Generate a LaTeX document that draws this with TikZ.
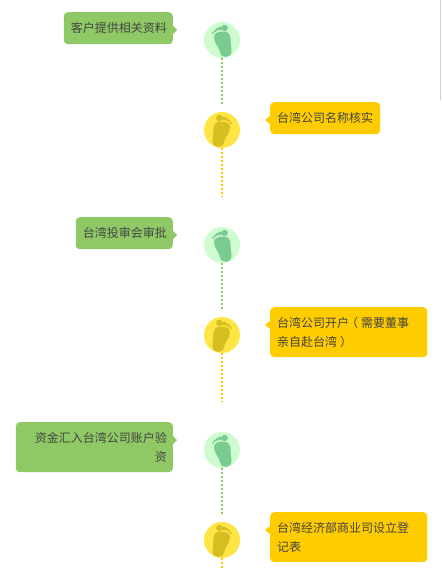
\documentclass[tikz,border=0pt]{standalone}
\usepackage{fontspec}
\setmainfont{Noto Sans CJK SC}
\usetikzlibrary{positioning}
\definecolor{BoxGreen}{RGB}{143,201,101}
\definecolor{BoxYellow}{RGB}{255,204,0}
\definecolor{RingGreen}{RGB}{207,252,207}
\definecolor{RingYellow}{RGB}{255,229,67}
\definecolor{FootGreen}{RGB}{122,203,143}
\definecolor{FootYellow}{RGB}{212,190,34}
\definecolor{TextGrey}{RGB}{68,68,68}
\begin{document}
\begin{tikzpicture}[x=1pt,y=-1pt,
leftbox/.style={rectangle,rounded corners=4pt,fill=BoxGreen,anchor=north east,align=right,inner xsep=6pt,inner ysep=0pt,text width=#1,text=TextGrey,font=\fontsize{12}{19.5}\selectfont},
rightbox/.style={rectangle,rounded corners=4pt,fill=BoxYellow,anchor=north west,align=left,inner xsep=7pt,inner ysep=0pt,text width=#1,text=TextGrey,font=\fontsize{12}{19.5}\selectfont},
greenring/.style={circle,fill=RingGreen,minimum size=36pt,inner sep=0pt},
yellowring/.style={circle,fill=RingYellow,minimum size=36pt,inner sep=0pt},
greenline/.style={draw=BoxGreen,line width=2.5pt,dash pattern=on 2pt off 2pt},
yellowline/.style={draw=BoxYellow,line width=2.5pt,dash pattern=on 2pt off 2pt},
foot/.pic={
\fill (-8,-3) .. controls (-8,-8) and (-2,-8.5) .. (2,-8.5) .. controls (6.5,-8.5) and (8.5,-5) .. (8.5,-1) .. controls (8.5,4) and (9.5,8) .. (9.5,11) .. controls (9.5,18.5) and (-1,19) .. (-2,12) .. controls (-2.5,7) and (-8,4) .. (-8,-3) -- cycle;
\fill (2.7,-12) circle (3.2pt);
\fill (-2,-11.5) circle (2pt);
\fill (-5,-10.5) circle (1.7pt);
\fill (-7.3,-9) circle (1.4pt);
\fill (-9,-7) circle (1.2pt);
}]
\useasboundingbox (0,0) rectangle (441,569);
\draw[line width=1pt,draw=black!18] (440.5,0) -- (440.5,100);
% steps down the page
\node[greenring] (s1) at (222,40) {};
\node[yellowring] (s2) at (222,130) {};
\node[greenring] (s3) at (222,245) {};
\node[yellowring] (s4) at (222,335) {};
\node[greenring] (s5) at (222,450) {};
\node[yellowring] (s6) at (222,540) {};
\foreach \x in {s1,s3,s5}{\pic[fill=FootGreen] at (\x) {foot};}
\foreach \x in {s2,s4,s6}{\pic[fill=FootYellow,xscale=-1] at (\x) {foot};}
% free ends of the yellow lines
\coordinate (e2) at (222,196.5);
\coordinate (e4) at (222,401.5);
\coordinate (e6) at (222,569);
\foreach \x/\y in {s1/s2,s3/s4,s5/s6}{\draw[greenline,shorten >=6pt] (\x)--(\y);}
\foreach \x/\y in {s2/e2,s4/e4,s6/e6}{\draw[yellowline] (\x)--(\y);}
% labels
\node[leftbox=97pt,minimum height=32pt] (a) at (173,12) {客户提供相关资料};
\node[rightbox=96pt,minimum height=32pt] (b) at (270,102) {台湾公司名称核实};
\node[leftbox=85pt,minimum height=32pt] (c) at (173,217) {台湾投审会审批};
\node[rightbox=143pt,minimum height=50pt] (d) at (270,307) {台湾公司开户\kern-3pt（\kern3pt需要董事\\亲自赴台湾\kern3pt）};
\node[leftbox=145pt,minimum height=50pt] (e) at (173,422) {资金汇入台湾公司账户验\\资};
\node[rightbox=143pt,minimum height=50pt] (f) at (270,512) {台湾经济部商业司设立登\\记表};
\foreach \x in {a,c,e}{\fill[BoxGreen] ([yshift=-14pt]\x.north east) -- ++(4,4) -- ++(-4,4) -- cycle;}
\foreach \x in {b,d,f}{\fill[BoxYellow] ([yshift=-14pt]\x.north west) -- ++(-5,4) -- ++(5,4) -- cycle;}
\end{tikzpicture}
\end{document}
